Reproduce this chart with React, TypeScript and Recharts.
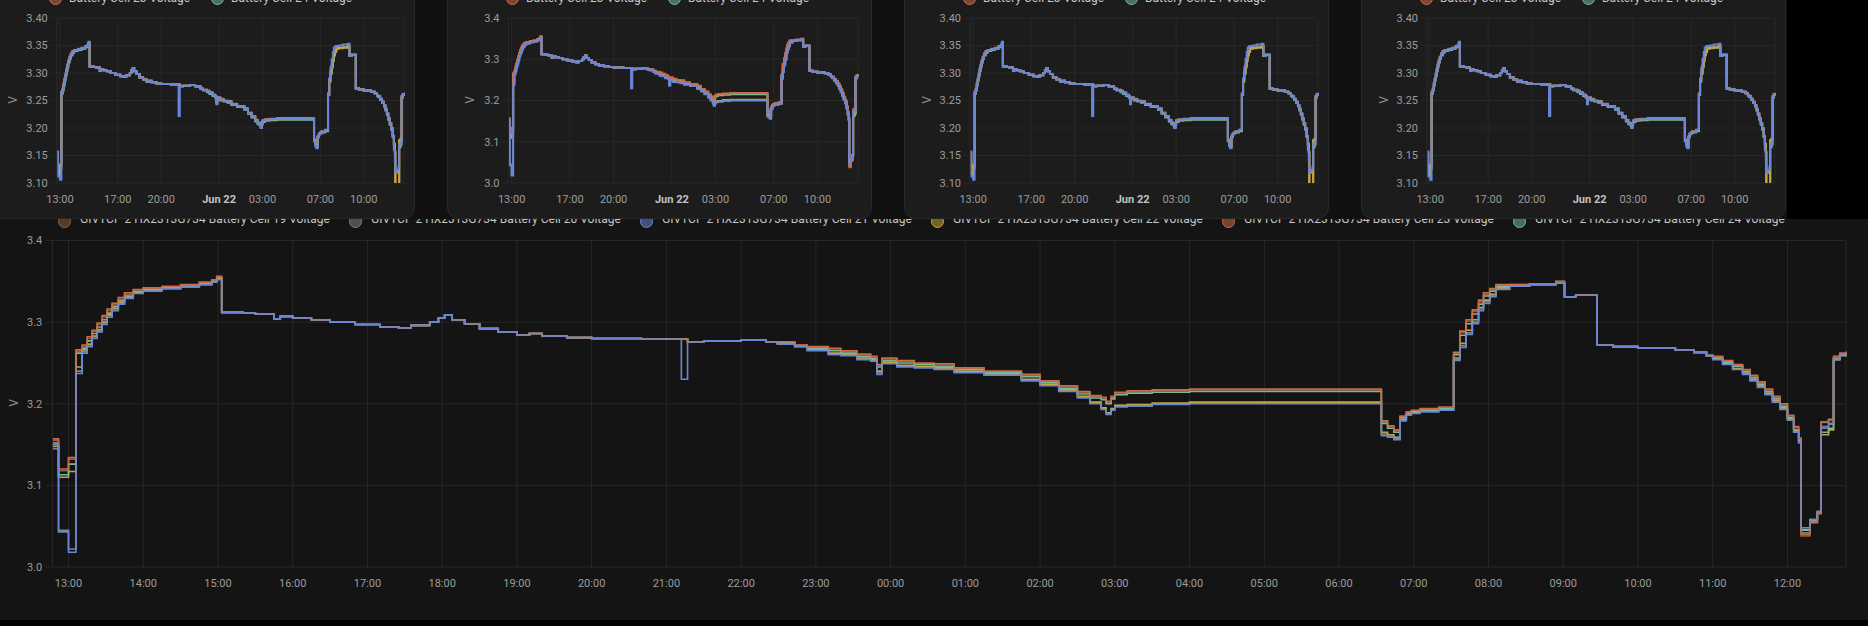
import React from "react";
import { LineChart, Line, XAxis, YAxis, CartesianGrid } from "recharts";

// minutes after 13:00 on Jun 21 (negative = just before 13:00)
const minutes = [
  -13, -8, 0, 6, 11, 15, 19, 23, 27, 31, 35, 40, 45, 52, 60, 75, 90, 105, 115, 119,
  123, 140, 150, 165, 170, 180, 195, 210, 230, 250, 265, 275, 290, 297, 302, 308, 318, 330, 345, 360,
  370, 380, 400, 420, 460, 492, 497, 510, 540, 560,
  569, 583, 593, 610, 620, 633, 644, 649, 653, 665, 679, 695, 711, 735, 765, 780, 795, 810, 820, 829,
  833, 837, 840, 850, 870, 900, 1054, 1059, 1064, 1069, 1074, 1078, 1085, 1100, 1112, 1117, 1122, 1127, 1132, 1136,
  1141, 1146, 1157, 1173, 1194,
  1201, 1210, 1227, 1240, 1260, 1290, 1305, 1315,
  1320, 1328, 1336, 1344, 1350, 1356, 1362, 1368, 1374, 1380, 1385, 1389, 1391, 1398, 1404, 1407, 1413, 1417, 1422, 1427,
];

const cell19 = [
  3.155, 3.118, 3.132, 3.264, 3.27, 3.28, 3.289, 3.297, 3.306, 3.314, 3.321, 3.328, 3.334, 3.339, 3.341, 3.343, 3.345, 3.348, 3.351, 3.355,
  3.312, 3.311, 3.31, 3.304, 3.307, 3.305, 3.303, 3.3, 3.297, 3.294, 3.293, 3.296, 3.3, 3.305, 3.309, 3.303, 3.298, 3.292, 3.288, 3.284,
  3.286, 3.283, 3.281, 3.28, 3.279, 3.279, 3.276, 3.277, 3.278, 3.276,
  3.276, 3.272, 3.269, 3.267, 3.264, 3.26, 3.257, 3.247, 3.255, 3.252, 3.249, 3.248, 3.243, 3.239, 3.235, 3.227, 3.221, 3.214, 3.209, 3.207,
  3.202, 3.208, 3.213, 3.215, 3.216, 3.217, 3.178, 3.172, 3.167, 3.184, 3.189, 3.191, 3.193, 3.195, 3.262, 3.287, 3.301, 3.313, 3.325, 3.334,
  3.34, 3.345, 3.346, 3.347, 3.349,
  3.331, 3.333, 3.272, 3.27, 3.268, 3.266, 3.263, 3.259,
  3.257, 3.252, 3.247, 3.241, 3.234, 3.226, 3.217, 3.208, 3.199, 3.185, 3.171, 3.157, 3.038, 3.054, 3.065, 3.177, 3.18, 3.257, 3.261, 3.263,
];

const cell20 = [
  3.145, 3.045, 3.022, 3.24, 3.264, 3.272, 3.282, 3.29, 3.299, 3.308, 3.316, 3.323, 3.33, 3.336, 3.339, 3.341, 3.343, 3.346, 3.349, 3.353,
  3.312, 3.311, 3.31, 3.304, 3.307, 3.305, 3.303, 3.3, 3.297, 3.294, 3.293, 3.296, 3.3, 3.305, 3.309, 3.303, 3.298, 3.292, 3.288, 3.284,
  3.286, 3.283, 3.281, 3.28, 3.279, 3.279, 3.276, 3.277, 3.278, 3.276,
  3.274, 3.27, 3.266, 3.261, 3.26, 3.255, 3.253, 3.238, 3.25, 3.246, 3.245, 3.243, 3.239, 3.236, 3.229, 3.223, 3.216, 3.208, 3.201, 3.194,
  3.188, 3.193, 3.197, 3.198, 3.2, 3.201, 3.163, 3.16, 3.157, 3.18, 3.187, 3.189, 3.191, 3.193, 3.254, 3.271, 3.287, 3.3, 3.316, 3.325,
  3.332, 3.341, 3.344, 3.346, 3.348,
  3.331, 3.333, 3.272, 3.27, 3.268, 3.266, 3.263, 3.259,
  3.255, 3.249, 3.243, 3.237, 3.229, 3.221, 3.212, 3.203, 3.194, 3.181, 3.166, 3.153, 3.042, 3.056, 3.066, 3.17, 3.175, 3.255, 3.26, 3.262,
];

const cell21 = [
  3.15, 3.043, 3.018, 3.237, 3.262, 3.27, 3.28, 3.288, 3.297, 3.306, 3.314, 3.322, 3.329, 3.335, 3.338, 3.341, 3.343, 3.346, 3.349, 3.352,
  3.312, 3.311, 3.31, 3.304, 3.307, 3.305, 3.303, 3.3, 3.297, 3.294, 3.293, 3.296, 3.3, 3.305, 3.309, 3.303, 3.298, 3.292, 3.288, 3.284,
  3.286, 3.283, 3.281, 3.28, 3.279, 3.23, 3.276, 3.277, 3.278, 3.276,
  3.273, 3.27, 3.265, 3.26, 3.259, 3.254, 3.252, 3.236, 3.249, 3.245, 3.244, 3.242, 3.238, 3.235, 3.228, 3.222, 3.215, 3.207, 3.2, 3.193,
  3.187, 3.192, 3.196, 3.197, 3.199, 3.2, 3.161, 3.159, 3.156, 3.179, 3.186, 3.188, 3.19, 3.192, 3.253, 3.269, 3.285, 3.298, 3.314, 3.323,
  3.331, 3.34, 3.344, 3.346, 3.348,
  3.331, 3.333, 3.272, 3.27, 3.268, 3.266, 3.263, 3.259,
  3.254, 3.248, 3.242, 3.236, 3.228, 3.22, 3.211, 3.202, 3.193, 3.18, 3.165, 3.152, 3.048, 3.058, 3.068, 3.172, 3.176, 3.254, 3.26, 3.262,
];

const cell22 = [
  3.148, 3.11, 3.117, 3.245, 3.266, 3.273, 3.283, 3.291, 3.3, 3.309, 3.317, 3.324, 3.331, 3.336, 3.339, 3.342, 3.344, 3.347, 3.35, 3.354,
  3.312, 3.311, 3.31, 3.304, 3.307, 3.305, 3.303, 3.3, 3.297, 3.294, 3.293, 3.296, 3.3, 3.305, 3.309, 3.303, 3.298, 3.292, 3.288, 3.284,
  3.286, 3.283, 3.281, 3.28, 3.279, 3.279, 3.276, 3.277, 3.278, 3.276,
  3.274, 3.271, 3.267, 3.262, 3.261, 3.256, 3.254, 3.24, 3.251, 3.247, 3.246, 3.244, 3.24, 3.237, 3.23, 3.224, 3.217, 3.209, 3.202, 3.195,
  3.189, 3.194, 3.198, 3.199, 3.201, 3.202, 3.165, 3.162, 3.159, 3.181, 3.187, 3.189, 3.191, 3.193, 3.256, 3.274, 3.29, 3.303, 3.318, 3.327,
  3.334, 3.342, 3.345, 3.347, 3.35,
  3.331, 3.333, 3.272, 3.27, 3.268, 3.266, 3.263, 3.259,
  3.255, 3.249, 3.243, 3.237, 3.23, 3.222, 3.213, 3.204, 3.195, 3.182, 3.167, 3.154, 3.046, 3.058, 3.068, 3.162, 3.168, 3.254, 3.259, 3.261,
];

const cell23 = [
  3.157, 3.12, 3.134, 3.266, 3.272, 3.282, 3.29, 3.299, 3.308, 3.316, 3.323, 3.33, 3.336, 3.34, 3.342, 3.344, 3.346, 3.349, 3.352, 3.356,
  3.312, 3.311, 3.31, 3.304, 3.307, 3.305, 3.303, 3.3, 3.297, 3.294, 3.293, 3.296, 3.3, 3.305, 3.309, 3.303, 3.298, 3.292, 3.288, 3.284,
  3.286, 3.283, 3.281, 3.28, 3.279, 3.279, 3.276, 3.277, 3.278, 3.276,
  3.276, 3.272, 3.27, 3.268, 3.265, 3.261, 3.258, 3.248, 3.256, 3.253, 3.25, 3.249, 3.244, 3.24, 3.236, 3.228, 3.222, 3.215, 3.21, 3.208,
  3.203, 3.209, 3.214, 3.216, 3.217, 3.218, 3.179, 3.173, 3.168, 3.185, 3.19, 3.192, 3.194, 3.196, 3.263, 3.289, 3.303, 3.315, 3.327, 3.336,
  3.341, 3.346, 3.346, 3.347, 3.349,
  3.331, 3.333, 3.272, 3.27, 3.268, 3.266, 3.263, 3.259,
  3.258, 3.253, 3.248, 3.242, 3.235, 3.227, 3.218, 3.209, 3.2, 3.186, 3.172, 3.158, 3.04, 3.055, 3.066, 3.178, 3.181, 3.258, 3.262, 3.264,
];

const cell24 = [
  3.152, 3.113, 3.126, 3.262, 3.268, 3.277, 3.286, 3.294, 3.303, 3.311, 3.319, 3.326, 3.332, 3.337, 3.34, 3.342, 3.344, 3.347, 3.35, 3.354,
  3.312, 3.311, 3.31, 3.304, 3.307, 3.305, 3.303, 3.3, 3.297, 3.294, 3.293, 3.296, 3.3, 3.305, 3.309, 3.303, 3.298, 3.292, 3.288, 3.284,
  3.286, 3.283, 3.281, 3.28, 3.279, 3.279, 3.276, 3.277, 3.278, 3.276,
  3.275, 3.271, 3.268, 3.265, 3.262, 3.258, 3.255, 3.245, 3.253, 3.25, 3.248, 3.246, 3.242, 3.238, 3.233, 3.226, 3.219, 3.212, 3.207, 3.205,
  3.2, 3.206, 3.211, 3.213, 3.214, 3.215, 3.176, 3.17, 3.165, 3.183, 3.188, 3.19, 3.192, 3.194, 3.26, 3.284, 3.298, 3.31, 3.322, 3.332,
  3.338, 3.344, 3.345, 3.346, 3.348,
  3.331, 3.333, 3.272, 3.27, 3.268, 3.266, 3.263, 3.259,
  3.256, 3.251, 3.246, 3.239, 3.232, 3.224, 3.215, 3.206, 3.197, 3.183, 3.168, 3.155, 3.045, 3.057, 3.067, 3.165, 3.17, 3.255, 3.26, 3.262,
];

// cell drawn on top in the three fine-scale cards (shallower dips than cells 19-24)
const packCell = [
  3.157, 3.112, 3.106, 3.264, 3.27, 3.28, 3.289, 3.297, 3.306, 3.314, 3.321, 3.328, 3.334, 3.339, 3.341, 3.343, 3.345, 3.348, 3.351, 3.357,
  3.312, 3.311, 3.31, 3.304, 3.307, 3.305, 3.303, 3.3, 3.297, 3.294, 3.293, 3.296, 3.3, 3.305, 3.309, 3.303, 3.298, 3.292, 3.288, 3.284,
  3.286, 3.283, 3.281, 3.28, 3.279, 3.222, 3.276, 3.277, 3.278, 3.276,
  3.276, 3.272, 3.269, 3.267, 3.264, 3.26, 3.257, 3.243, 3.255, 3.252, 3.249, 3.248, 3.243, 3.239, 3.235, 3.227, 3.221, 3.214, 3.208, 3.205,
  3.2, 3.206, 3.213, 3.215, 3.216, 3.217, 3.176, 3.167, 3.163, 3.184, 3.189, 3.191, 3.193, 3.197, 3.262, 3.29, 3.31, 3.325, 3.338, 3.346,
  3.348, 3.349, 3.35, 3.352, 3.353,
  3.331, 3.333, 3.272, 3.27, 3.268, 3.266, 3.263, 3.259,
  3.257, 3.252, 3.247, 3.241, 3.234, 3.226, 3.217, 3.208, 3.199, 3.185, 3.16, 3.14, 3.118, 3.124, 3.13, 3.17, 3.175, 3.257, 3.261, 3.263,
];

const hourTicks = [0, 60, 120, 180, 240, 300, 360, 420, 480, 540, 600, 660, 720, 780, 840, 900, 960, 1020, 1080, 1140, 1200, 1260, 1320, 1380];
const miniTicks = [0, 240, 420, 660, 840, 1080, 1260];
const miniTickLabels = ["13:00", "17:00", "20:00", "Jun 22", "03:00", "07:00", "10:00"];
const fineVoltTicks = [3.1, 3.15, 3.2, 3.25, 3.3, 3.35, 3.4];
const coarseVoltTicks = [3.0, 3.1, 3.2, 3.3, 3.4];

const rows = minutes.map((t, i) => ({
  t,
  c19: cell19[i],
  c20: cell20[i],
  c21: cell21[i],
  c22: cell22[i],
  c23: cell23[i],
  c24: cell24[i],
  pack: packCell[i],
}));

const COLORS: Record<string, string> = {
  c19: "#8d5f3d",
  c20: "#808387",
  c21: "#6a86d8",
  c22: "#c4a73a",
  c23: "#cf6a45",
  c24: "#79b99b",
};

const legendCells = ["c19", "c20", "c21", "c22", "c23", "c24"];
const legendNames = [
  "GIVTCP 2 HX2313G734 Battery Cell 19 Voltage",
  "GIVTCP 2 HX2313G734 Battery Cell 20 Voltage",
  "GIVTCP 2 HX2313G734 Battery Cell 21 Voltage",
  "GIVTCP 2 HX2313G734 Battery Cell 22 Voltage",
  "GIVTCP 2 HX2313G734 Battery Cell 23 Voltage",
  "GIVTCP 2 HX2313G734 Battery Cell 24 Voltage",
];

// drawing order: blue ends on top
const bigOrder = ["c20", "c22", "c19", "c24", "c23", "c21"];
const miniOrder = [
  { key: "c24", color: COLORS.c24 },
  { key: "c23", color: COLORS.c23 },
  { key: "c19", color: COLORS.c22 },
  { key: "pack", color: COLORS.c21 },
];

const GRID = "#272727";
const FONT = "Roboto, sans-serif";

const clock = (m: number) => String(Math.floor((13 + m / 60) % 24)).padStart(2, "0") + ":00";

const Dot = ({ color, x, y }: { color: string; x: number; y: number }) => (
  <div
    style={{
      position: "absolute",
      left: x - 7,
      top: y - 7,
      width: 11,
      height: 11,
      borderRadius: "50%",
      background: color + "88",
      border: `1.5px solid ${color}`,
    }}
  />
);

const MiniTick = (props: any) => {
  const { x, y, payload } = props;
  const label = miniTickLabels[miniTicks.indexOf(payload.value)];
  const bold = label === "Jun 22";
  return (
    <text
      x={x}
      y={y}
      dy="0.71em"
      textAnchor="middle"
      fill={bold ? "#c2c2c2" : "#9c9c9c"}
      fontSize={11}
      fontWeight={bold ? 700 : 400}
      fontFamily={FONT}
    >
      {label}
    </text>
  );
};

const MiniPanel = ({
  left,
  plotLeft,
  marginRight,
  fine,
  series,
}: {
  left: number;
  plotLeft: number;
  marginRight: number;
  fine: boolean;
  series: { key: string; color: string }[];
}) => (
  <div
    style={{
      position: "absolute",
      left,
      top: -40,
      width: 425,
      height: 259,
      background: "#1c1c1c",
      borderRadius: 12,
      boxShadow: "inset 0 0 0 1px #282828",
      overflow: "hidden",
    }}
  >
    <Dot color={COLORS.c23} x={66} y={39} />
    <div style={{ position: "absolute", left: 79, top: 31, fontSize: 12, color: "#c8c8c8", fontFamily: FONT, whiteSpace: "nowrap" }}>
      Battery Cell 23 Voltage
    </div>
    <Dot color={COLORS.c24} x={228} y={39} />
    <div style={{ position: "absolute", left: 241, top: 31, fontSize: 12, color: "#c8c8c8", fontFamily: FONT, whiteSpace: "nowrap" }}>
      Battery Cell 24 Voltage
    </div>
    <div
      style={{
        position: "absolute",
        left: 17,
        top: 133,
        width: 12,
        textAlign: "center",
        transform: "rotate(-90deg)",
        fontSize: 12,
        color: "#8c8c8c",
        fontFamily: FONT,
      }}
    >
      V
    </div>
    <div style={{ position: "absolute", left: 0, top: 40 }}>
      <LineChart width={425} height={219} data={rows} margin={{ top: 18, right: marginRight, bottom: 6, left: 0 }}>
        <CartesianGrid stroke={GRID} />
        <XAxis
          dataKey="t"
          type="number"
          domain={[-13, 1427]}
          ticks={miniTicks}
          tick={<MiniTick />}
          tickLine={false}
          axisLine={false}
          tickSize={0}
          tickMargin={12}
          height={30}
        />
        <YAxis
          type="number"
          domain={fine ? [3.1, 3.4] : [3.0, 3.4]}
          ticks={fine ? fineVoltTicks : coarseVoltTicks}
          tickFormatter={(v: number) => v.toFixed(fine ? 2 : 1)}
          allowDataOverflow
          width={plotLeft}
          tickSize={6}
          tickMargin={3}
          tickLine={{ stroke: GRID }}
          axisLine={{ stroke: GRID }}
          tick={{ fill: "#9c9c9c", fontSize: 11, fontFamily: FONT }}
        />
        {series.map((s, i) => (
          <Line
            key={s.key + i}
            type="stepAfter"
            dataKey={s.key}
            stroke={s.color}
            strokeWidth={2}
            dot={false}
            isAnimationActive={false}
          />
        ))}
      </LineChart>
    </div>
  </div>
);

const App = () => {
  return (
    <div
      style={{
        position: "absolute",
        left: 0,
        top: 0,
        width: 1868,
        height: 626,
        background: "#000",
        overflow: "hidden",
        fontFamily: FONT,
      }}
    >
      {/* large chart card */}
      <div style={{ position: "absolute", left: 0, top: 219, width: 1868, height: 401, background: "#141414", overflow: "hidden" }}>
        {legendCells.map((k, i) => (
          <React.Fragment key={k}>
            <Dot color={COLORS[k]} x={65 + i * 291} y={3} />
            <div
              style={{
                position: "absolute",
                left: 80 + i * 291,
                top: -7,
                fontSize: 12,
                color: "#c4c4c4",
                whiteSpace: "nowrap",
              }}
            >
              {legendNames[i]}
            </div>
          </React.Fragment>
        ))}
        <div
          style={{
            position: "absolute",
            left: 8,
            top: 177,
            width: 12,
            textAlign: "center",
            transform: "rotate(-90deg)",
            fontSize: 12,
            color: "#8c8c8c",
          }}
        >
          V
        </div>
        <LineChart width={1868} height={401} data={rows} margin={{ top: 21.5, right: 22, bottom: 23, left: 0 }}>
          <CartesianGrid stroke={GRID} />
          <XAxis
            dataKey="t"
            type="number"
            domain={[-13, 1427]}
            ticks={hourTicks}
            tickFormatter={clock}
            tickLine={false}
            axisLine={false}
            tickSize={0}
            tickMargin={12}
            height={30}
            tick={{ fill: "#9c9c9c", fontSize: 11, fontFamily: FONT }}
          />
          <YAxis
            type="number"
            domain={[3.0, 3.4]}
            ticks={coarseVoltTicks}
            tickFormatter={(v: number) => v.toFixed(1)}
            allowDataOverflow
            width={52.3}
            tickSize={7}
            tickMargin={3}
            tickLine={{ stroke: GRID }}
            axisLine={{ stroke: GRID }}
            tick={{ fill: "#9c9c9c", fontSize: 11, fontFamily: FONT }}
          />
          {bigOrder.map((k) => (
            <Line
              key={k}
              type="stepAfter"
              dataKey={k}
              stroke={COLORS[k]}
              strokeWidth={1.6}
              dot={false}
              isAnimationActive={false}
            />
          ))}
        </LineChart>
      </div>

      {/* strip holding the four small cards */}
      <div style={{ position: "absolute", left: 0, top: 0, width: 1787, height: 219, background: "#111" }} />
      <MiniPanel left={-10} plotLeft={66.8} marginRight={11} fine series={miniOrder} />
      <MiniPanel
        left={447}
        plotLeft={61.5}
        marginRight={14}
        fine={false}
        series={bigOrder.map((k) => ({ key: k, color: COLORS[k] }))}
      />
      <MiniPanel left={904} plotLeft={66} marginRight={11} fine series={miniOrder} />
      <MiniPanel left={1361} plotLeft={66} marginRight={11} fine series={miniOrder} />
    </div>
  );
};

export default App;
